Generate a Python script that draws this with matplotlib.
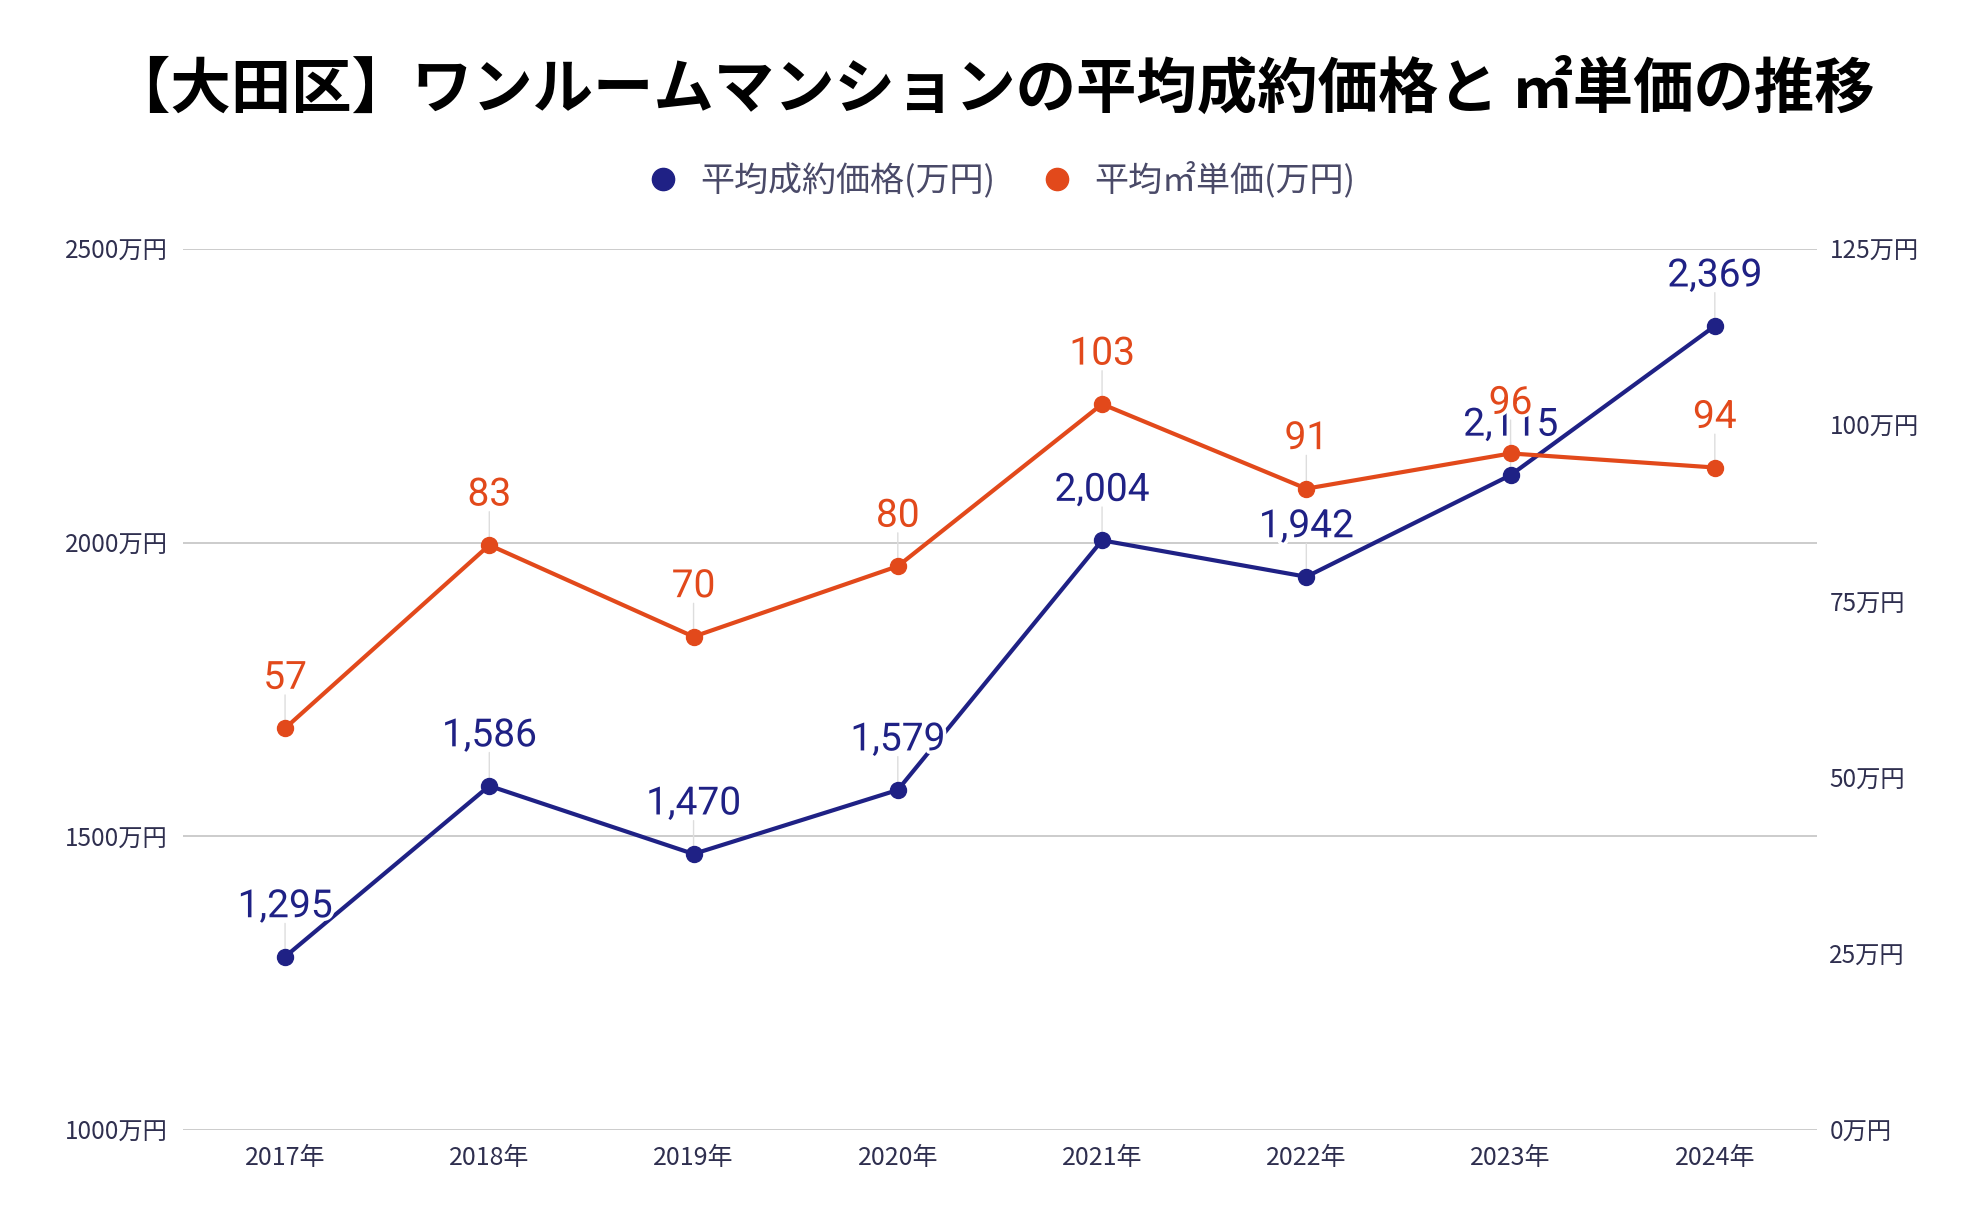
import matplotlib

matplotlib.use("Agg")
import matplotlib.pyplot as plt
import matplotlib.patheffects as pe
from matplotlib.lines import Line2D

plt.rcParams["font.family"] = ["Noto Sans CJK JP", "DejaVu Sans"]

# data
years = ["2017年", "2018年", "2019年", "2020年", "2021年", "2022年", "2023年", "2024年"]
avg_price = [1295, 1586, 1470, 1579, 2004, 1942, 2115, 2369]  # 万円
unit_price = [57, 83, 70, 80, 103, 91, 96, 94]  # 万円/㎡
left_ticks = [1000, 1500, 2000, 2500]
right_ticks = [0, 25, 50, 75, 100, 125]

BLUE = "#1f2185"
ORANGE = "#e2491b"
TICK_C = "#2f2f4f"
LEG_C = "#4a4a68"

fig = plt.figure(figsize=(19.84, 12.28), dpi=100)
ax = fig.add_axes([0.0922, 0.0798, 0.8236, 0.7174])
ax2 = ax.twinx()

x = list(range(len(years)))
ax.set_xlim(-0.5, len(years) - 0.5)
ax.set_ylim(1000, 2500)
ax2.set_ylim(0, 125)

for a in (ax, ax2):
    for s in a.spines.values():
        s.set_visible(False)

ax.set_yticks(left_ticks)
ax.set_yticklabels([f"{v}万円" for v in left_ticks])
ax2.set_yticks(right_ticks)
ax2.set_yticklabels([f"{v}万円" for v in right_ticks])
ax.set_xticks(x)
ax.set_xticklabels(years)
ax.tick_params(axis="y", length=0, pad=11, labelsize=17.5, labelcolor=TICK_C)
ax2.tick_params(axis="y", length=0, pad=9, labelsize=17.5, labelcolor=TICK_C)
ax.tick_params(axis="x", length=0, pad=11, labelsize=18, labelcolor=TICK_C)
ax.grid(axis="y", color="#cccccc", linewidth=1.4)
ax.set_axisbelow(True)

ax.plot(x, avg_price, color=BLUE, lw=3, marker="o", ms=11.5, zorder=3)
ax2.plot(x, unit_price, color=ORANGE, lw=3, marker="o", ms=11.5, zorder=3)

halo = [pe.withStroke(linewidth=5, foreground="white")]


def label(axis, xs, ys, fmt, color):
    for xi, yi in zip(xs, ys):
        axis.annotate("", xy=(xi, yi), xytext=(0, 24), textcoords="offset points",
                      arrowprops=dict(arrowstyle="-", color="#dddddd", lw=1,
                                      shrinkA=0, shrinkB=5), zorder=2)
        axis.annotate(fmt(yi), xy=(xi, yi), xytext=(0, 36), textcoords="offset points",
                      ha="center", va="center", fontsize=28, color=color,
                      family=["Roboto", "DejaVu Sans"], path_effects=halo, zorder=5)


label(ax, x, avg_price, lambda v: f"{v:,}", BLUE)
label(ax2, x, unit_price, lambda v: f"{v}", ORANGE)

fig.text(0.5, 0.927, "【大田区】ワンルームマンションの平均成約価格と ㎡単価の推移",
         ha="center", va="center", fontsize=43.5, fontweight="bold", color="black")

handles = [
    Line2D([], [], ls="none", marker="o", ms=16, color=BLUE),
    Line2D([], [], ls="none", marker="o", ms=16, color=ORANGE),
]
fig.legend(handles, ["平均成約価格(万円)", "平均㎡単価(万円)"], loc="center",
           bbox_to_anchor=(0.5, 0.853), ncol=2, frameon=False, fontsize=24.5,
           labelcolor=LEG_C, handletextpad=0.1, columnspacing=0.8)

fig.savefig("out.png", dpi=100)
